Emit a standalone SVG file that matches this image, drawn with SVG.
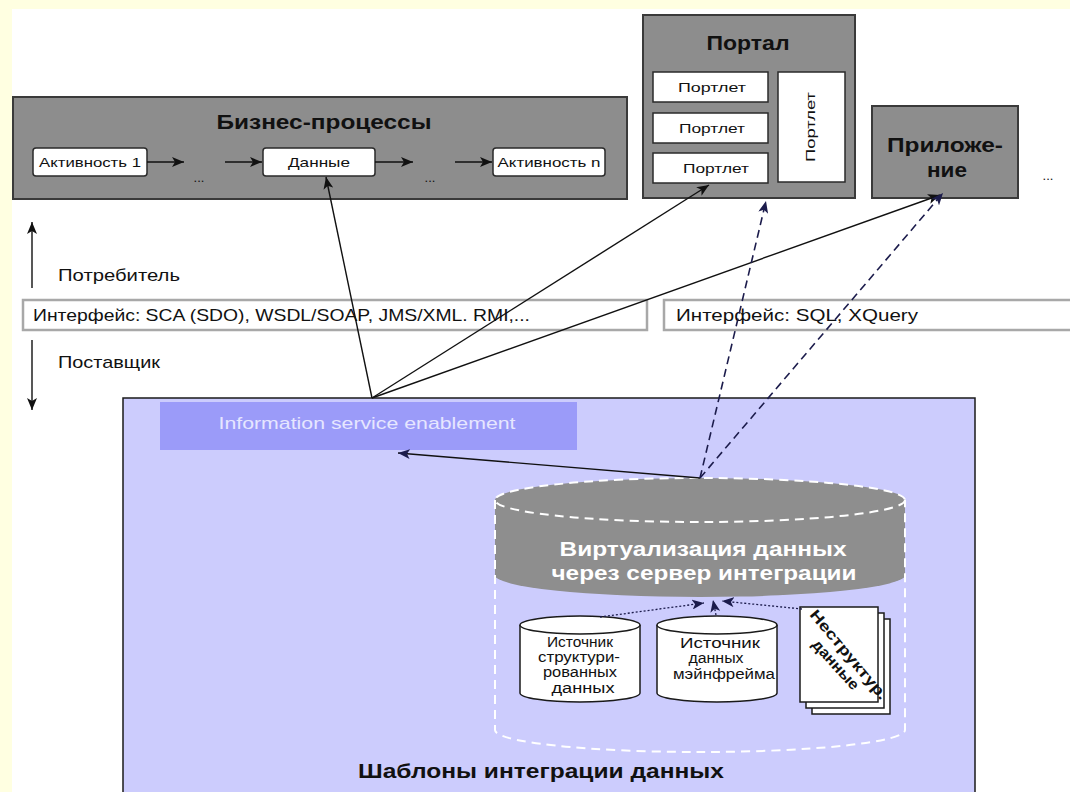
<svg xmlns="http://www.w3.org/2000/svg" width="1070" height="792" viewBox="0 0 1070 792">
<defs>
<marker id="ah" markerUnits="userSpaceOnUse" markerWidth="12" markerHeight="10" refX="12" refY="5" orient="auto"><path d="M0,0 L12,5 L0,10 L3,5 z" fill="#111"/></marker>
<marker id="ahn" markerUnits="userSpaceOnUse" markerWidth="12" markerHeight="10" refX="12" refY="5" orient="auto"><path d="M0,0 L12,5 L0,10 L3,5 z" fill="#1c1c4c"/></marker>
<style>
text{font-family:"Liberation Sans",Arial,sans-serif;fill:#111}
.gbox{fill:#8d8d8d;stroke:#3a3a3a;stroke-width:2}
.wbox{fill:#fff;stroke:#2a2a2a;stroke-width:1.5}
.title{font-weight:bold;font-size:20px;text-anchor:middle}
.small{font-size:13px;text-anchor:middle}
.lbl{font-size:17px}
.bar{fill:#fff;stroke:#a8a8a8;stroke-width:2.5}
.conn{stroke:#111;stroke-width:1.4;fill:none}
.dash{stroke:#1c1c4c;stroke-width:1.6;fill:none;stroke-dasharray:8,5}
.dot{stroke:#1c1c4c;stroke-width:1.3;fill:none;stroke-dasharray:2,2}
.cyl{fill:#fff;stroke:#1a1a1a;stroke-width:1.5}
.ctext{font-size:14px;text-anchor:middle}
</style>
</defs>
<rect x="0" y="0" width="1070" height="792" fill="#ffffe1"/>
<rect x="12" y="9" width="1058" height="783" fill="#fff"/>

<g id="business-processes">
<rect class="gbox" x="13" y="97" width="614" height="102"/>
<text class="title" x="324" y="129" textLength="215" lengthAdjust="spacingAndGlyphs">Бизнес-процессы</text>
<rect class="wbox" x="33" y="148" width="114" height="28" rx="3"/>
<text class="small" x="90" y="167" textLength="102" lengthAdjust="spacingAndGlyphs">Активность 1</text>
<text class="small" x="199" y="182">...</text>
<rect class="wbox" x="263" y="148" width="112" height="28" rx="3"/>
<text class="small" x="319" y="167" textLength="62" lengthAdjust="spacingAndGlyphs">Данные</text>
<text class="small" x="430" y="182">...</text>
<rect class="wbox" x="493" y="148" width="112" height="28" rx="3"/>
<text class="small" x="549" y="167" textLength="103" lengthAdjust="spacingAndGlyphs">Активность n</text>
</g>

<g id="portal">
<rect class="gbox" x="643" y="15" width="212" height="183"/>
<text class="title" x="748" y="50" textLength="83" lengthAdjust="spacingAndGlyphs">Портал</text>
<rect class="wbox" x="653" y="72" width="115" height="30"/>
<text class="small" x="712" y="92" textLength="68" lengthAdjust="spacingAndGlyphs">Портлет</text>
<rect class="wbox" x="653" y="113" width="115" height="30"/>
<text class="small" x="712" y="133" textLength="66" lengthAdjust="spacingAndGlyphs">Портлет</text>
<rect class="wbox" x="653" y="153" width="115" height="30"/>
<text class="small" x="716" y="173" textLength="66" lengthAdjust="spacingAndGlyphs">Портлет</text>
<rect class="wbox" x="778" y="72" width="67" height="110"/>
<text class="small" transform="translate(815,127) rotate(-90)" x="0" y="0" textLength="70" lengthAdjust="spacingAndGlyphs">Портлет</text>
</g>

<g id="application">
<rect class="gbox" x="872" y="106" width="146" height="92"/>
<text class="title" x="945" y="152" font-size="22" textLength="116" lengthAdjust="spacingAndGlyphs">Приложе-</text>
<text class="title" x="947" y="177" font-size="22" textLength="40" lengthAdjust="spacingAndGlyphs">ние</text>
</g>
<text x="1048" y="180" font-size="13" fill="#555" text-anchor="middle">...</text>

<g id="consumer-provider">
<line class="conn" x1="32" y1="288" x2="32" y2="222" marker-end="url(#ah)"/>
<text class="lbl" x="58" y="281" textLength="122" lengthAdjust="spacingAndGlyphs">Потребитель</text>
<line class="conn" x1="32" y1="340" x2="32" y2="410" marker-end="url(#ah)"/>
<text class="lbl" x="58" y="368" textLength="102" lengthAdjust="spacingAndGlyphs">Поставщик</text>
</g>

<g id="interface-1">
<rect class="bar" x="23" y="300" width="624" height="30"/>
<text class="lbl" x="33" y="321" textLength="497" lengthAdjust="spacingAndGlyphs">Интерфейс: SCA (SDO), WSDL/SOAP, JMS/XML. RMI,...</text>
</g>
<g id="interface-2">
<rect class="bar" x="664" y="300" width="420" height="30"/>
<text class="lbl" x="676" y="321" textLength="242" lengthAdjust="spacingAndGlyphs">Интерфейс: SQL, XQuery</text>
</g>

<g id="data-integration-patterns">
<rect x="123" y="398" width="852" height="400" fill="#ccccfd" stroke="#1a1a1a" stroke-width="1.5"/>
<text x="541" y="778" font-weight="bold" font-size="20" text-anchor="middle" textLength="366" lengthAdjust="spacingAndGlyphs">Шаблоны интеграции данных</text>
</g>

<g id="information-service-enablement">
<rect x="160" y="402" width="417" height="48" fill="#9b9bf9"/>
<text x="367" y="429" font-size="17" fill="#e6e6ff" style="fill:#e6e6ff" text-anchor="middle" textLength="297" lengthAdjust="spacingAndGlyphs">Information service enablement</text>
</g>

<g id="virtualization">
<path d="M495,500 L495,575 A205,22 0 0 0 905,575 L905,500 A205,22 0 0 0 495,500 z" fill="#8e8e8e"/>
<ellipse cx="700" cy="500" rx="205" ry="22" fill="none" stroke="#fff" stroke-width="2" stroke-dasharray="9,6"/>
<path d="M495,500 L495,730 A205,22 0 0 0 905,730 L905,500" fill="none" stroke="#fff" stroke-width="2" stroke-dasharray="9,6"/>
<text x="703" y="556" font-weight="bold" font-size="20" fill="#fff" style="fill:#fff" text-anchor="middle" textLength="287" lengthAdjust="spacingAndGlyphs">Виртуализация данных</text>
<text x="704" y="580" font-weight="bold" font-size="20" fill="#fff" style="fill:#fff" text-anchor="middle" textLength="305" lengthAdjust="spacingAndGlyphs">через сервер интеграции</text>
</g>

<g id="structured-source">
<path class="cyl" d="M520,625 L520,693 A60,9 0 0 0 640,693 L640,625"/>
<ellipse class="cyl" cx="580" cy="625" rx="60" ry="9"/>
<text class="ctext" x="580" y="647" textLength="66" lengthAdjust="spacingAndGlyphs">Источник</text>
<text class="ctext" x="579" y="662" textLength="82" lengthAdjust="spacingAndGlyphs">структури-</text>
<text class="ctext" x="580" y="677" textLength="74" lengthAdjust="spacingAndGlyphs">рованных</text>
<text class="ctext" x="583" y="693" textLength="63" lengthAdjust="spacingAndGlyphs">данных</text>
</g>

<g id="mainframe-source">
<path class="cyl" d="M657,625 L657,693 A60,9 0 0 0 777,693 L777,625"/>
<ellipse class="cyl" cx="717" cy="625" rx="60" ry="9"/>
<text class="ctext" x="720" y="648" textLength="80" lengthAdjust="spacingAndGlyphs">Источник</text>
<text class="ctext" x="716" y="663" textLength="55" lengthAdjust="spacingAndGlyphs">данных</text>
<text class="ctext" x="724" y="679" textLength="102" lengthAdjust="spacingAndGlyphs">мэйнфрейма</text>
</g>

<g id="unstructured-data">
<rect x="812" y="619" width="78" height="95" fill="#fff" stroke="#1a1a1a" stroke-width="1.5"/>
<rect x="806" y="613" width="78" height="95" fill="#fff" stroke="#1a1a1a" stroke-width="1.5"/>
<rect x="800" y="607" width="78" height="95" fill="#fff" stroke="#1a1a1a" stroke-width="1.5"/>
<text transform="translate(845,658) rotate(50)" x="0" y="0" font-weight="bold" font-size="15" text-anchor="middle" textLength="112" lengthAdjust="spacingAndGlyphs">Неструктур.</text>
<text transform="translate(832,668) rotate(48)" x="0" y="0" font-weight="bold" font-size="15" text-anchor="middle" textLength="62" lengthAdjust="spacingAndGlyphs">данные</text>
</g>

<g id="connectors">
<line class="conn" x1="147" y1="162" x2="184" y2="162" marker-end="url(#ah)"/>
<line class="conn" x1="225" y1="162" x2="262" y2="162" marker-end="url(#ah)"/>
<line class="conn" x1="375" y1="162" x2="413" y2="162" marker-end="url(#ah)"/>
<line class="conn" x1="455" y1="162" x2="492" y2="162" marker-end="url(#ah)"/>
<line class="conn" x1="372" y1="398" x2="326" y2="177" marker-end="url(#ah)"/>
<line class="conn" x1="372" y1="398" x2="709" y2="185" marker-end="url(#ah)"/>
<line class="conn" x1="372" y1="398" x2="940" y2="195" marker-end="url(#ah)"/>
<line class="conn" x1="700" y1="478" x2="398" y2="453" stroke="#1c1c4c" marker-end="url(#ahn)"/>
<line class="dash" x1="700" y1="478" x2="766" y2="201" marker-end="url(#ahn)"/>
<line class="dash" x1="700" y1="478" x2="943" y2="193" marker-end="url(#ahn)"/>
<line class="dot" x1="600" y1="617" x2="704" y2="603" marker-end="url(#ahn)"/>
<line class="dot" x1="716" y1="615" x2="713" y2="600" marker-end="url(#ahn)"/>
<line class="dot" x1="802" y1="609" x2="722" y2="601" marker-end="url(#ahn)"/>
</g>
</svg>
